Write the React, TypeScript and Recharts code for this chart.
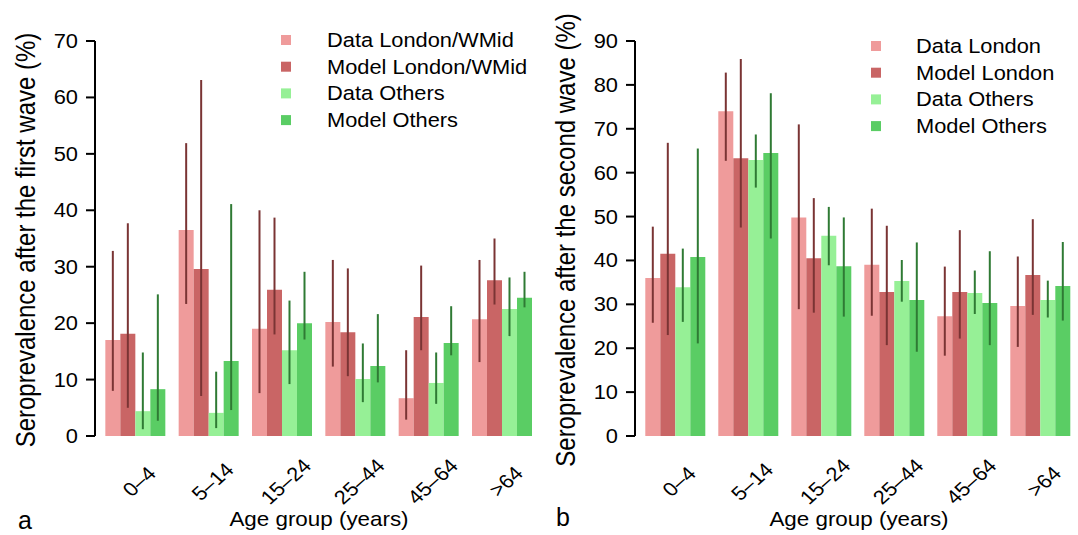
import React from "react";
import { BarChart, Bar, XAxis, YAxis, ErrorBar, Legend } from "recharts";

// age groups (x categories)
const ageGroups = ["0–4", "5–14", "15–24", "25–44", "45–64", ">64"];

// panel a: first wave
const w1DataLondon = [17.0, 36.5, 19.0, 20.2, 6.7, 20.7];
const w1DataLondonLo = [8.0, 23.4, 7.6, 12.3, 2.9, 13.1];
const w1DataLondonHi = [32.8, 51.9, 40.0, 31.2, 15.2, 31.2];
const w1ModelLondon = [18.1, 29.6, 25.9, 18.4, 21.1, 27.6];
const w1ModelLondonLo = [5.0, 7.1, 18.0, 10.6, 15.2, 23.3];
const w1ModelLondonHi = [37.7, 63.1, 38.7, 29.7, 30.2, 35.0];
const w1DataOthers = [4.4, 4.1, 15.2, 10.1, 9.4, 22.5];
const w1DataOthersLo = [1.2, 1.4, 9.2, 6.0, 5.7, 17.7];
const w1DataOthersHi = [14.8, 11.4, 24.0, 16.4, 14.8, 28.1];
const w1ModelOthers = [8.3, 13.3, 20.0, 12.4, 16.5, 24.5];
const w1ModelOthersLo = [2.7, 4.6, 17.1, 9.5, 14.3, 22.8];
const w1ModelOthersHi = [25.1, 41.1, 29.1, 21.6, 23.0, 29.1];

// panel b: second wave
const w2DataLondon = [36.0, 74.0, 49.8, 39.0, 27.3, 29.6];
const w2DataLondonLo = [25.8, 62.7, 28.9, 27.4, 18.3, 20.3];
const w2DataLondonHi = [47.7, 82.8, 71.0, 51.8, 38.6, 40.9];
const w2ModelLondon = [41.5, 63.3, 40.5, 32.8, 32.8, 36.7];
const w2ModelLondonLo = [23.0, 47.5, 28.1, 20.7, 22.2, 27.6];
const w2ModelLondonHi = [66.8, 85.9, 54.2, 47.9, 46.9, 49.4];
const w2DataOthers = [33.9, 62.9, 45.6, 35.3, 32.6, 31.0];
const w2DataOthersLo = [26.0, 56.6, 38.9, 30.6, 27.8, 27.0];
const w2DataOthersHi = [42.7, 68.7, 52.2, 40.1, 37.7, 35.4];
const w2ModelOthers = [40.8, 64.5, 38.7, 31.0, 30.3, 34.2];
const w2ModelOthersLo = [21.1, 45.0, 27.2, 19.2, 20.7, 26.3];
const w2ModelOthersHi = [65.5, 78.1, 49.8, 44.1, 42.1, 44.2];

const ticksA = [0, 10, 20, 30, 40, 50, 60, 70];
const ticksB = [0, 10, 20, 30, 40, 50, 60, 70, 80, 90];

const namesA = ["Data London/WMid", "Model London/WMid", "Data Others", "Model Others"];
const namesB = ["Data London", "Model London", "Data Others", "Model Others"];

const FONT = '"Liberation Sans", Arial, Helvetica, sans-serif';
const SX = 1.12;

const C_DL = "#ef9b9b";
const C_ML = "#c96565";
const C_DO = "#96f096";
const C_MO = "#5acd64";
const ERR_L = "#7a3434";
const ERR_O = "#2f7a34";

type Series = { v: number[]; lo: number[]; hi: number[] };

function buildRows(dl: Series, ml: Series, dO: Series, mo: Series) {
  return ageGroups.map((age, i) => ({
    age,
    dl: dl.v[i],
    dlErr: [dl.v[i] - dl.lo[i], dl.hi[i] - dl.v[i]],
    ml: ml.v[i],
    mlErr: [ml.v[i] - ml.lo[i], ml.hi[i] - ml.v[i]],
    do: dO.v[i],
    doErr: [dO.v[i] - dO.lo[i], dO.hi[i] - dO.v[i]],
    mo: mo.v[i],
    moErr: [mo.v[i] - mo.lo[i], mo.hi[i] - mo.v[i]],
  }));
}

const dataA = buildRows(
  { v: w1DataLondon, lo: w1DataLondonLo, hi: w1DataLondonHi },
  { v: w1ModelLondon, lo: w1ModelLondonLo, hi: w1ModelLondonHi },
  { v: w1DataOthers, lo: w1DataOthersLo, hi: w1DataOthersHi },
  { v: w1ModelOthers, lo: w1ModelOthersLo, hi: w1ModelOthersHi }
);
const dataB = buildRows(
  { v: w2DataLondon, lo: w2DataLondonLo, hi: w2DataLondonHi },
  { v: w2ModelLondon, lo: w2ModelLondonLo, hi: w2ModelLondonHi },
  { v: w2DataOthers, lo: w2DataOthersLo, hi: w2DataOthersHi },
  { v: w2ModelOthers, lo: w2ModelOthersLo, hi: w2ModelOthersHi }
);

function SText({ x, y, children, anchor = "start", size = 19.5, sx = SX, rotate = 0, dy }: any) {
  return (
    <text
      transform={`translate(${x} ${y}) scale(${sx} 1)${rotate ? ` rotate(${rotate})` : ""}`}
      textAnchor={anchor}
      fontSize={size}
      fontFamily={FONT}
      fill="#000"
      dy={dy}
    >
      {children}
    </text>
  );
}

const YTick = (props: any) => {
  const { x, y, payload } = props;
  return (
    <SText x={x} y={y + 7} anchor="end">
      {payload.value}
    </SText>
  );
};

const XTick = (props: any) => {
  const { x, y, payload } = props;
  return (
    <SText x={x + 4.5} y={y + 45.5} anchor="middle" rotate={-45} dy="0.35em">
      {payload.value}
    </SText>
  );
};

const YTitle = ({ text }: any) => (
  <SText x={25} y={240} anchor="middle" rotate={-90} size={24} sx={1.16} dy="0.35em">
    {text}
  </SText>
);

const XTitle = ({ letter, letterX, letterY }: any) => (
  <g>
    <SText x={319} y={526} anchor="middle" size={20}>
      Age group (years)
    </SText>
    <SText x={letterX} y={letterY} size={25} sx={1}>
      {letter}
    </SText>
  </g>
);

const LegendBox = (props: any) => {
  const { payload, textX, order } = props;
  const items = [...(payload || [])].sort(
    (a: any, b: any) => order.indexOf(a.value) - order.indexOf(b.value)
  );
  return (
    <svg width={260} height={110} style={{ overflow: "visible" }}>
      {items.map((p: any, i: number) => (
        <g key={p.value}>
          <rect x={0} y={12 + i * 26.7 - 5} width={10} height={10} fill={p.color} />
          <SText x={textX} y={12 + i * 26.7 + 7}>
            {p.value}
          </SText>
        </g>
      ))}
    </svg>
  );
};

function Panel({ data, width, yMax, ticks, yTitle, names, letter, letterX, letterY, legendLeft, legendTop, legendTextX }: any) {
  return (
    <BarChart
      width={width}
      height={535}
      data={data}
      margin={{ top: 41, right: 2, left: 0, bottom: 0 }}
      barCategoryGap="10%"
      barGap={0}
    >
      <XAxis
        dataKey="age"
        axisLine={false}
        tickLine={false}
        tickSize={0}
        tickMargin={0}
        height={99}
        padding={{ left: 3, right: 0 }}
        interval={0}
        tick={<XTick />}
        label={<XTitle letter={letter} letterX={letterX} letterY={letterY} />}
      />
      <YAxis
        domain={[0, yMax]}
        ticks={ticks}
        interval={0}
        width={95}
        tickSize={9}
        tickMargin={8}
        axisLine={{ stroke: "#000", strokeWidth: 2 }}
        tickLine={{ stroke: "#000", strokeWidth: 2 }}
        tick={<YTick />}
        label={<YTitle text={yTitle} />}
      />
      <Legend
        layout="vertical"
        align="center"
        verticalAlign="middle"
        wrapperStyle={{ left: legendLeft, top: legendTop, width: 260, height: 110 }}
        content={<LegendBox textX={legendTextX} order={names} />}
      />
      <Bar dataKey="dl" name={names[0]} fill={C_DL} legendType="square" isAnimationActive={false}>
        <ErrorBar dataKey="dlErr" width={0} strokeWidth={2} stroke={ERR_L} direction="y" />
      </Bar>
      <Bar dataKey="ml" name={names[1]} fill={C_ML} legendType="square" isAnimationActive={false}>
        <ErrorBar dataKey="mlErr" width={0} strokeWidth={2} stroke={ERR_L} direction="y" />
      </Bar>
      <Bar dataKey="do" name={names[2]} fill={C_DO} legendType="square" isAnimationActive={false}>
        <ErrorBar dataKey="doErr" width={0} strokeWidth={2} stroke={ERR_O} direction="y" />
      </Bar>
      <Bar dataKey="mo" name={names[3]} fill={C_MO} legendType="square" isAnimationActive={false}>
        <ErrorBar dataKey="moErr" width={0} strokeWidth={2} stroke={ERR_O} direction="y" />
      </Bar>
    </BarChart>
  );
}

export default function App() {
  return (
    <div style={{ position: "absolute", left: 0, top: 0, width: 1078, height: 535, background: "#fff" }}>
      <div style={{ position: "absolute", left: 0, top: 0 }}>
        <Panel
          data={dataA}
          width={540}
          yMax={70}
          ticks={ticksA}
          yTitle="Seroprevalence after the first wave (%)"
          names={namesA}
          letter="a"
          letterX={18}
          letterY={529}
          legendLeft={281}
          legendTop={28}
          legendTextX={46}
        />
      </div>
      <div style={{ position: "absolute", left: 540, top: 0 }}>
        <Panel
          data={dataB}
          width={538}
          yMax={90}
          ticks={ticksB}
          yTitle="Seroprevalence after the second wave (%)"
          names={namesB}
          letter="b"
          letterX={16}
          letterY={526}
          legendLeft={331}
          legendTop={34}
          legendTextX={45}
        />
      </div>
    </div>
  );
}
